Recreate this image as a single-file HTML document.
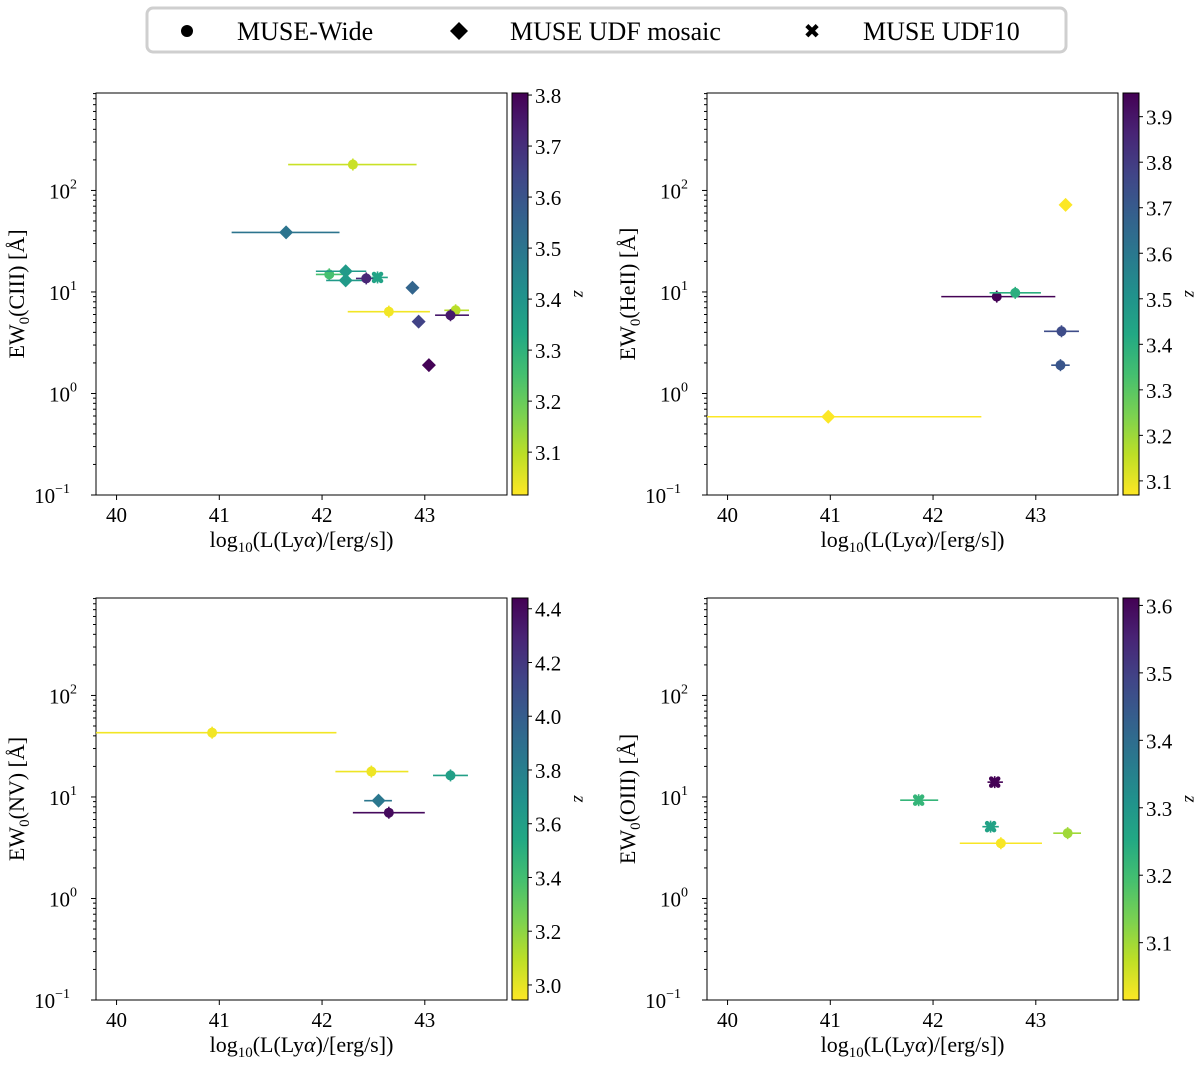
<!DOCTYPE html>
<html><head><meta charset="utf-8"><style>
html,body{margin:0;padding:0;background:#fff;}
svg{display:block;font-family:"Liberation Serif",serif;}
</style></head><body>
<svg id="fig" width="1200" height="1065" viewBox="0 0 1200 1065" xmlns="http://www.w3.org/2000/svg">
<defs></defs>
<g>
<rect x="147" y="8" width="919" height="44" rx="6" fill="#fff" stroke="#cfcfcf" stroke-width="3"/>
<circle cx="187" cy="31" r="6" fill="#000"/>
<text x="237" y="40" font-size="26">MUSE-Wide</text>
<polygon points="459,22 468,31 459,40 450,31" fill="#000"/>
<text x="510" y="40" font-size="26">MUSE UDF mosaic</text>
<text x="812" y="38" font-size="20" font-weight="bold" text-anchor="middle" font-family="DejaVu Sans,sans-serif">✖</text>
<text x="863" y="40" font-size="26">MUSE UDF10</text>
</g>
</svg>
<script>
// ---- data (x = log10 L(Lya), y = EW0, xlo/xhi = x error extent, z = redshift, m = marker) ----
const ciiiX = [42.30, 41.65, 42.07, 42.23, 42.23, 42.43, 42.54, 42.88, 42.65, 43.30, 43.25, 42.94, 43.04];
const ciiiY = [180, 38.6, 14.9, 16, 13, 13.6, 13.9, 11, 6.4, 6.6, 5.9, 5.1, 1.9];
const ciiiXlo = [41.67, 41.12, 41.94, 41.94, 42.04, 42.33, 42.48, 42.88, 42.25, 43.19, 43.10, 42.94, 43.04];
const ciiiXhi = [42.92, 42.17, 42.24, 42.43, 42.43, 42.56, 42.64, 42.88, 43.05, 43.43, 43.43, 42.94, 43.04];
const ciiiZ = [3.08, 3.5, 3.25, 3.38, 3.38, 3.72, 3.35, 3.55, 3.03, 3.1, 3.75, 3.65, 3.8];
const ciiiM = ["o","D","o","D","D","o","X","D","o","o","o","D","D"];

const heiiX = [43.29, 42.62, 42.80, 43.25, 43.24, 40.98];
const heiiY = [72, 9, 9.8, 4.1, 1.9, 0.59];
const heiiXlo = [43.29, 42.08, 42.55, 43.08, 43.15, 39.5];
const heiiXhi = [43.29, 43.19, 43.05, 43.42, 43.33, 42.47];
const heiiZ = [3.07, 3.95, 3.4, 3.75, 3.72, 3.07];
const heiiM = ["D","o","o","o","o","D"];

const nvX = [40.93, 42.48, 43.25, 42.55, 42.65];
const nvY = [43, 17.8, 16.3, 9.2, 7.0];
const nvXlo = [39.5, 42.13, 43.08, 42.41, 42.30];
const nvXhi = [42.14, 42.84, 43.42, 42.68, 43.00];
const nvZ = [2.97, 2.98, 3.6, 3.85, 4.4];
const nvM = ["o","o","o","D","o"];

const oiiiX = [41.86, 42.60, 42.56, 42.66, 43.31];
const oiiiY = [9.3, 14, 5.1, 3.5, 4.4];
const oiiiXlo = [41.68, 42.53, 42.48, 42.26, 43.17];
const oiiiXhi = [42.05, 42.68, 42.64, 43.06, 43.44];
const oiiiZ = [3.22, 3.61, 3.27, 3.02, 3.1];
const oiiiM = ["X","X","X","o","o"];

const xTicks = [40, 41, 42, 43];
const yTickExps = [-1, 0, 1, 2];
const cbTicks1 = [3.1, 3.2, 3.3, 3.4, 3.5, 3.6, 3.7, 3.8];
const cbTicks2 = [3.1, 3.2, 3.3, 3.4, 3.5, 3.6, 3.7, 3.8, 3.9];
const cbTicks3 = [3.0, 3.2, 3.4, 3.6, 3.8, 4.0, 4.2, 4.4];
const cbTicks4 = [3.1, 3.2, 3.3, 3.4, 3.5, 3.6];

const NS = "http://www.w3.org/2000/svg";
const svg = document.getElementById("fig");
const vir = ["#440154","#482475","#414487","#355f8d","#2a788e","#21918c","#22a884","#44bf70","#7ad151","#bddf26","#fde725"];
function hex(c){return [1,3,5].map(i=>parseInt(c.substr(i,2),16));}
function viridis(t){t=Math.max(0,Math.min(1,t));const f=t*10,i=Math.min(9,Math.floor(f)),u=f-i;const a=hex(vir[i]),b=hex(vir[i+1]);return "rgb("+a.map((v,k)=>Math.round(v+(b[k]-v)*u)).join(",")+")";}
function el(tag, attrs, parent){const e=document.createElementNS(NS,tag);for(const k in attrs)e.setAttribute(k,attrs[k]);(parent||svg).appendChild(e);return e;}

function panel(o){
  const g=el("g",{});
  
  
  const L=o.left,T=o.top,W=411,H=402;
  const xmin=39.8,xmax=43.8,ymin=-1,ymax=2.96;
  const sx=v=>L+(v-xmin)/(xmax-xmin)*W;
  const sy=v=>T+H-(Math.log10(v)-ymin)/(ymax-ymin)*H;
  const cl=(v)=>Math.max(L,Math.min(L+W,v));
  const fr=el("rect",{x:L,y:T,width:W,height:H,fill:"none",stroke:"#000","stroke-width":1},g);
  
  
  xTicks.forEach(t=>{const x=sx(t);
    el("line",{x1:x,x2:x,y1:T+H,y2:T+H+5,stroke:"#000"},g);
    const tx=el("text",{x:x,y:T+H+27,"font-size":21,"text-anchor":"middle"},g);tx.textContent=t;
    
    
  });
  yTickExps.forEach(e=>{const y=sy(Math.pow(10,e));
    el("line",{x1:L-5,x2:L,y1:y,y2:y,stroke:"#000"},g);
    const tx=el("text",{x:L-10-(e<0?16:9),y:y+8,"font-size":21,"text-anchor":"end"},g);
    
    
    tx.textContent="10";
    const sp=el("tspan",{dy:-10,"font-size":14},tx);sp.textContent=String(e).replace("-","−");
    if(e<2) for(let k=2;k<10;k++){const ym=sy(k*Math.pow(10,e));el("line",{x1:L-3,x2:L,y1:ym,y2:ym,stroke:"#000"},g);}
  });
  for(let k=2;k<10;k++){const v=k*100;if(Math.log10(v)<=ymax){const ym=sy(v);el("line",{x1:L-3,x2:L,y1:ym,y2:ym,stroke:"#000"},g);}}
  const xl=el("text",{x:L+W/2,y:T+H+52,"font-size":22,"text-anchor":"middle"},g);
  
  
  xl.innerHTML='log<tspan font-size="15" dy="5">10</tspan><tspan dy="-5">(L(Ly</tspan><tspan font-style="italic">α</tspan>)/[erg/s])';
  const yl=el("text",{x:0,y:0,"font-size":22,"text-anchor":"middle",transform:`translate(${L-72},${T+H/2}) rotate(-90)`},g);
  
  
  yl.innerHTML='EW<tspan font-size="15" dy="5">0</tspan><tspan dy="-5">('+o.line+') [Å]</tspan>';
  const cx=L+W+5,cw=16;
  const gid="grad-"+o.name;
  const lg=el("linearGradient",{id:gid,x1:0,y1:1,x2:0,y2:0},svg.querySelector("defs"));
  for(let i=0;i<=10;i++)el("stop",{offset:i/10,"stop-color":vir[10-i]},lg);
  const cb=el("rect",{x:cx,y:T,width:cw,height:H,fill:`url(#${gid})`,stroke:"#000","stroke-width":1},g);
  
  
  const cz=z=>T+H-(z-o.zmin)/(o.zmax-o.zmin)*H;
  o.cbTicks.forEach(t=>{const y=cz(t);
    el("line",{x1:cx+cw,x2:cx+cw+4,y1:y,y2:y,stroke:"#000"},g);
    const tx=el("text",{x:cx+cw+7,y:y+8,"font-size":21},g);tx.textContent=t.toFixed(1);
    
    
  });
  const zl=el("text",{x:0,y:0,"font-size":18,"font-style":"italic","text-anchor":"middle",transform:`translate(${cx+cw+46},${T+H/2}) rotate(90)`},g);zl.textContent="z";
  
  
  const col=z=>viridis(1-(z-o.zmin)/(o.zmax-o.zmin));
  o.X.forEach((xv,i)=>{
    const c=col(o.Z[i]);const px=sx(xv),py=sy(o.Y[i]);
    const pg=el("g",{},g);
    
    
    const a=cl(sx(o.Xlo[i])),b=cl(sx(o.Xhi[i]));
    if(b-a>1)el("line",{x1:a,x2:b,y1:py,y2:py,stroke:c,"stroke-width":1.6},pg);
    el("line",{x1:px,x2:px,y1:py-6,y2:py+6,stroke:c,"stroke-width":1.6},pg);
    const m=o.M[i];
    if(m==="o")el("circle",{cx:px,cy:py,r:5,fill:c},pg);
    else if(m==="D")el("polygon",{points:`${px},${py-7} ${px+7},${py} ${px},${py+7} ${px-7},${py}`,fill:c},pg);
    else{const s=3.5;el("path",{d:`M${px-s} ${py-s}L${px+s} ${py+s}M${px-s} ${py+s}L${px+s} ${py-s}`,stroke:c,"stroke-width":4.5,"stroke-linecap":"round"},pg);}
  });
}
panel({name:"ciii",line:"CIII",left:96,top:93,X:ciiiX,Y:ciiiY,Xlo:ciiiXlo,Xhi:ciiiXhi,Z:ciiiZ,M:ciiiM,zmin:3.016,zmax:3.804,cbTicks:cbTicks1});
panel({name:"heii",line:"HeII",left:707,top:93,X:heiiX,Y:heiiY,Xlo:heiiXlo,Xhi:heiiXhi,Z:heiiZ,M:heiiM,zmin:3.069,zmax:3.952,cbTicks:cbTicks2});
panel({name:"nv",line:"NV",left:96,top:598,X:nvX,Y:nvY,Xlo:nvXlo,Xhi:nvXhi,Z:nvZ,M:nvM,zmin:2.944,zmax:4.44,cbTicks:cbTicks3});
panel({name:"oiii",line:"OIII",left:707,top:598,X:oiiiX,Y:oiiiY,Xlo:oiiiXlo,Xhi:oiiiXhi,Z:oiiiZ,M:oiiiM,zmin:3.015,zmax:3.611,cbTicks:cbTicks4});
</script>
</body></html>
